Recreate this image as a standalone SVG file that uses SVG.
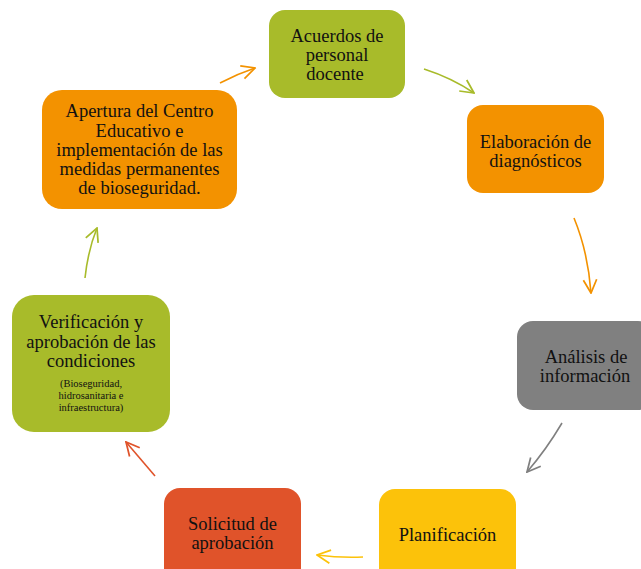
<svg xmlns="http://www.w3.org/2000/svg" width="641" height="569" viewBox="0 0 641 569">
<defs>
<style>
.t{font-family:"Liberation Serif","Times New Roman",serif;font-size:18.5px;fill:#111;text-anchor:middle}
.s{font-family:"Liberation Serif","Times New Roman",serif;font-size:10.5px;fill:#111;text-anchor:middle}
.c{fill:none;stroke-width:1.6}
</style>
<marker id="ao" viewBox="0 0 12 12" refX="11" refY="6" markerWidth="16" markerHeight="16" markerUnits="userSpaceOnUse" orient="auto"><path d="M1,1 L11,6 L1,11" fill="none" stroke="#f39200" stroke-width="1.3"/></marker>
<marker id="ag" viewBox="0 0 12 12" refX="11" refY="6" markerWidth="16" markerHeight="16" markerUnits="userSpaceOnUse" orient="auto"><path d="M1,1 L11,6 L1,11" fill="none" stroke="#a8bb2a" stroke-width="1.3"/></marker>
<marker id="ay" viewBox="0 0 12 12" refX="11" refY="6" markerWidth="16" markerHeight="16" markerUnits="userSpaceOnUse" orient="auto"><path d="M1,1 L11,6 L1,11" fill="none" stroke="#fcc20a" stroke-width="1.3"/></marker>
<marker id="ar" viewBox="0 0 12 12" refX="11" refY="6" markerWidth="16" markerHeight="16" markerUnits="userSpaceOnUse" orient="auto"><path d="M1,1 L11,6 L1,11" fill="none" stroke="#e0532a" stroke-width="1.3"/></marker>
<marker id="ax" viewBox="0 0 12 12" refX="11" refY="6" markerWidth="16" markerHeight="16" markerUnits="userSpaceOnUse" orient="auto"><path d="M1,1 L11,6 L1,11" fill="none" stroke="#808080" stroke-width="1.3"/></marker>
</defs>
<rect width="641" height="569" fill="#ffffff"/>
<g id="connectors">
<path class="c" stroke="#f39200" marker-end="url(#ao)" d="M220,83 Q237,74 255,68"/>
<path class="c" stroke="#a8bb2a" marker-end="url(#ag)" d="M424,69 Q452,78 474,93"/>
<path class="c" stroke="#f39200" marker-end="url(#ao)" d="M574,218 Q588,252 591,293"/>
<path class="c" stroke="#808080" marker-end="url(#ax)" d="M562,423 Q546,450 527,472"/>
<path class="c" stroke="#fcc20a" marker-end="url(#ay)" d="M363,557 Q340,558 317,555"/>
<path class="c" stroke="#e0532a" marker-end="url(#ar)" d="M155,476 L126,442"/>
<path class="c" stroke="#a8bb2a" marker-end="url(#ag)" d="M85,278 Q88,250 97,228"/>
</g>
<g id="acuerdos">
<rect x="269" y="10" width="136" height="88" rx="16" fill="#a8bb2a"/>
<text class="t" x="337" y="42">Acuerdos de</text>
<text class="t" x="337" y="61">personal</text>
<text class="t" x="335" y="80">docente</text>
</g>
<g id="elaboracion">
<rect x="467" y="105" width="137" height="88" rx="16" fill="#f39200"/>
<text class="t" x="535.5" y="148">Elaboración de</text>
<text class="t" x="535.5" y="167">diagnósticos</text>
</g>
<g id="analisis">
<rect x="517" y="321" width="137" height="89" rx="16" fill="#808080"/>
<text class="t" x="586" y="363">Análisis de</text>
<text class="t" x="585" y="382">información</text>
</g>
<g id="planificacion">
<rect x="379" y="489" width="137" height="100" rx="16" fill="#fcc20a"/>
<text class="t" x="447.5" y="541">Planificación</text>
</g>
<g id="solicitud">
<rect x="164" y="488" width="137" height="100" rx="16" fill="#e0532a"/>
<text class="t" x="232.5" y="530">Solicitud de</text>
<text class="t" x="232.5" y="549">aprobación</text>
</g>
<g id="verificacion">
<rect x="12" y="295" width="158" height="137" rx="22" fill="#a8bb2a"/>
<text class="t" x="91" y="328">Verificación y</text>
<text class="t" x="91" y="348">aprobación de las</text>
<text class="t" x="91" y="367">condiciones</text>
<text class="s" x="91" y="387">(Bioseguridad,</text>
<text class="s" x="91" y="399">hidrosanitaria e</text>
<text class="s" x="91" y="411">infraestructura)</text>
</g>
<g id="apertura">
<rect x="42" y="90" width="195" height="119" rx="20" fill="#f39200"/>
<text class="t" x="139.5" y="117">Apertura del Centro</text>
<text class="t" x="139.5" y="137">Educativo e</text>
<text class="t" x="139.5" y="156">implementación de las</text>
<text class="t" x="139.5" y="175">medidas permanentes</text>
<text class="t" x="139.5" y="194">de bioseguridad.</text>
</g>
</svg>
